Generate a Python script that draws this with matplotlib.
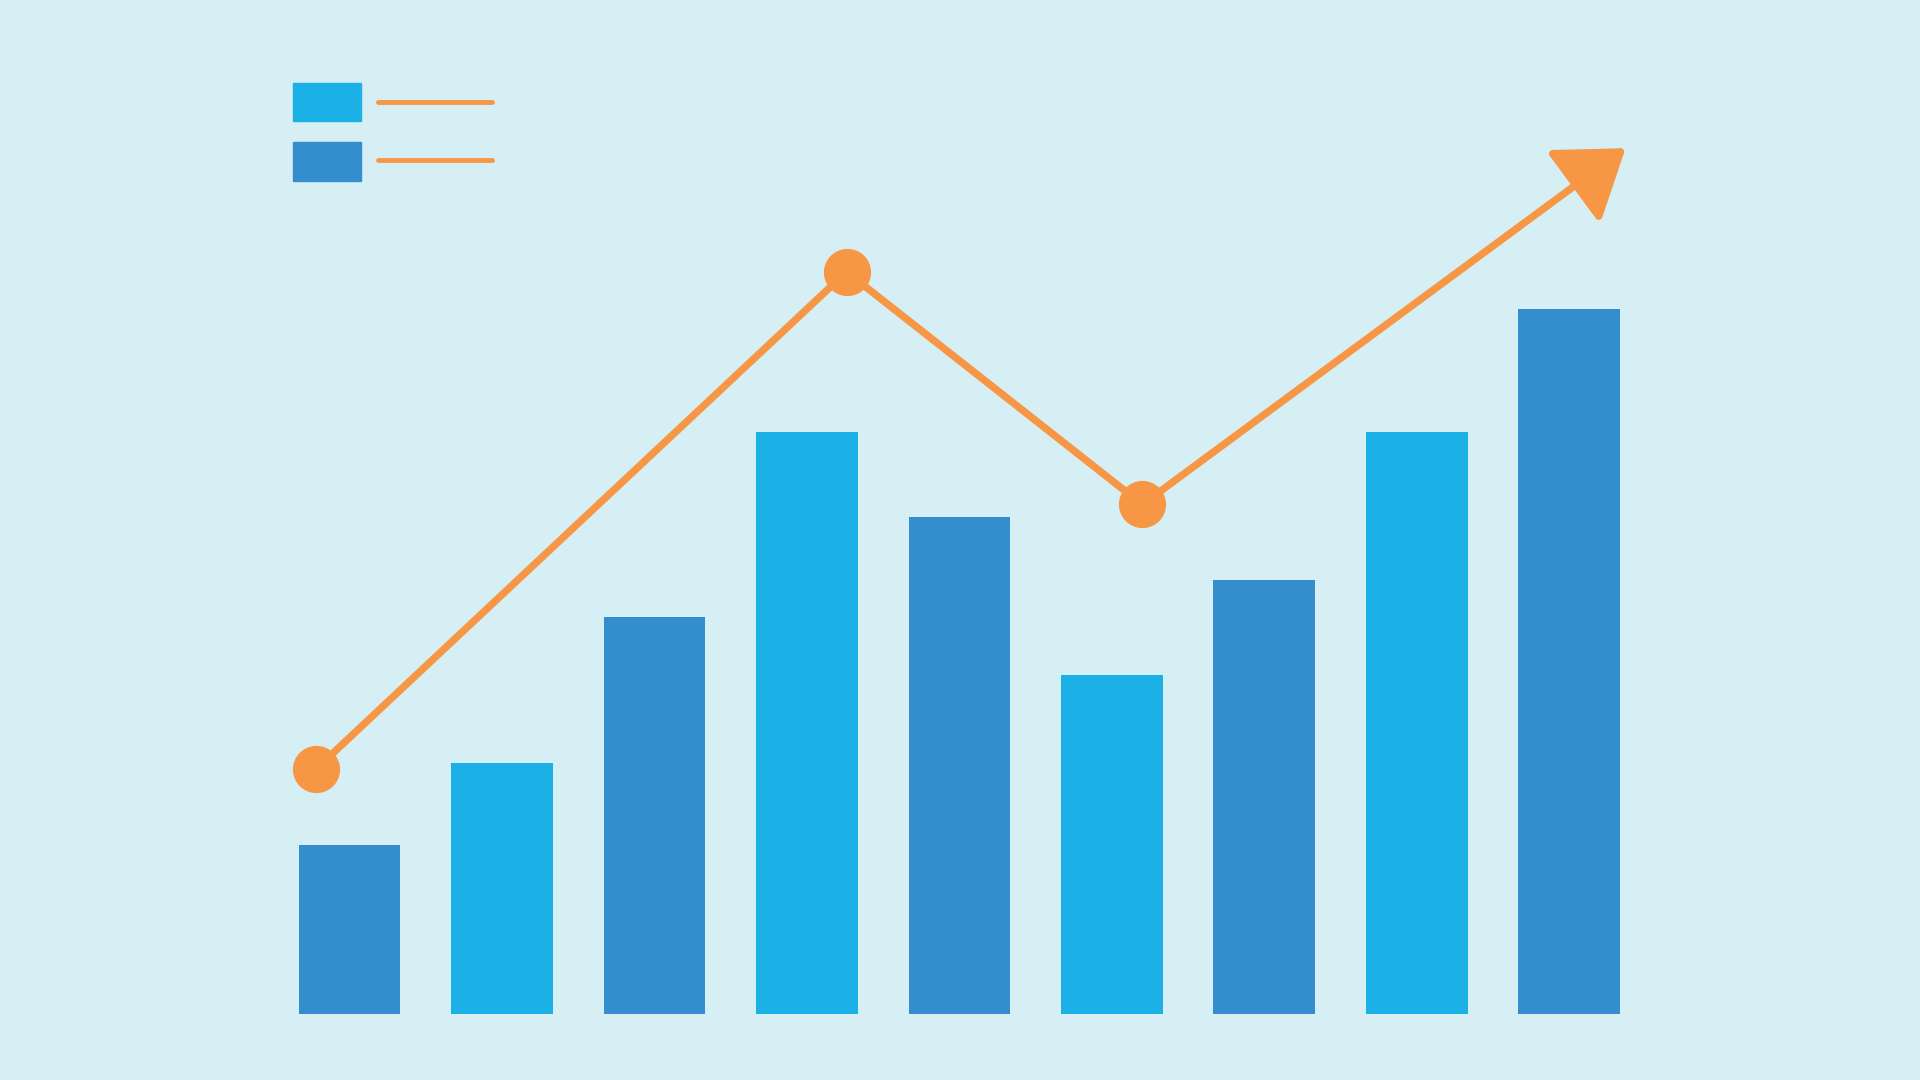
import matplotlib.pyplot as plt
from matplotlib.patches import Rectangle
from matplotlib.lines import Line2D

# bar heights (arbitrary units)
bar_values = [13.8, 20.5, 32.4, 47.5, 40.6, 27.7, 35.4, 47.5, 57.6]
bar_shades = ['dark', 'light', 'dark', 'light', 'dark', 'light', 'dark', 'light', 'dark']

# trend line: positions in bar-index units and values
trend_x = [-0.22, 3.26, 5.2]
trend_y = [20.0, 60.6, 41.6]
arrow_tip = (8.37, 70.7)

light = '#1CB1E6'
dark = '#348ECD'
orange = '#F79745'
bg = '#D6EFF5'

fig = plt.figure(figsize=(19.2, 10.8), dpi=100)
fig.patch.set_facecolor(bg)
ax = fig.add_axes([0, 0, 1, 1])
ax.set_facecolor(bg)

colors = [dark if s == 'dark' else light for s in bar_shades]
ax.bar(range(len(bar_values)), bar_values, width=0.667, color=colors, zorder=2)

ax.plot(trend_x, trend_y, color=orange, lw=5.3, solid_capstyle='butt', zorder=3)
ax.plot(trend_x, trend_y, 'o', color=orange, ms=33, zorder=4)
ax.annotate('', xy=arrow_tip, xytext=(trend_x[-1], trend_y[-1]),
            arrowprops=dict(arrowstyle='-|>,head_length=1.0,head_width=0.7',
                            mutation_scale=40, color=orange, lw=5.3,
                            shrinkA=0, shrinkB=0),
            zorder=3)

# legend swatches without text
for (y0, y1), c, ly in [((0.8878, 0.9229), light, 0.9059),
                        ((0.8322, 0.8685), dark, 0.8515)]:
    ax.add_patch(Rectangle((0.1524, y0), 0.0357, y1 - y0, color=c,
                           transform=ax.transAxes, zorder=5))
    ax.add_line(Line2D([0.197, 0.2564], [ly, ly], color=orange, lw=3.5,
                       solid_capstyle='round', transform=ax.transAxes, zorder=5))

ax.set_xlim(-2.293, 10.301)
ax.set_ylim(-5.4, 82.8)
ax.axis('off')

plt.savefig('out.png', dpi=100, facecolor=bg)
